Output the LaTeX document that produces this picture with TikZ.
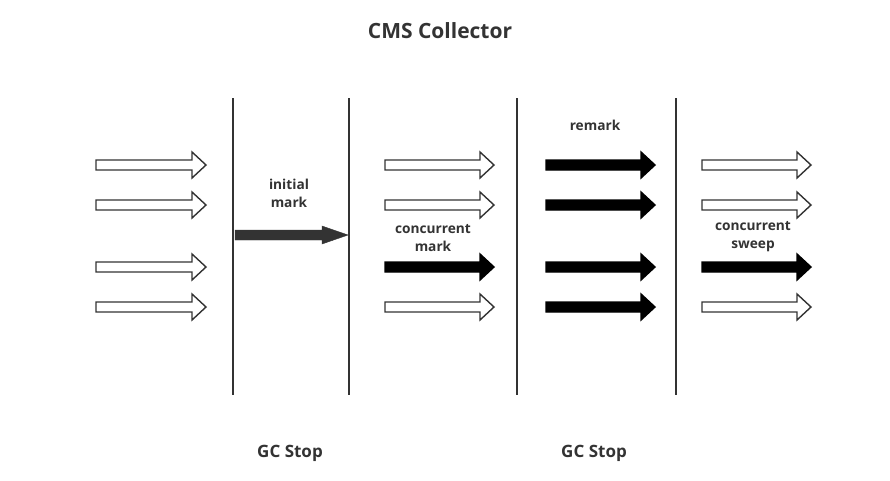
\documentclass[tikz,border=0pt]{standalone}
\usepackage{fontspec}
\setmainfont{Open Sans}
\definecolor{ink}{HTML}{333333}

% big block arrow: style, left x, middle y, tip x
\newcommand{\blockarrow}[4]{%
  \draw[#1] (#2,#3-5) -- (#4-14,#3-5) -- (#4-14,#3-13) -- (#4,#3)
    -- (#4-14,#3+13) -- (#4-14,#3+5) -- (#2,#3+5) -- cycle;}

\begin{document}
\begin{tikzpicture}[x=1pt,y=-1pt,
    stopline/.style={draw=ink, line width=2.4pt},
    blockopen/.style={draw=ink, fill=white, line width=1.4pt},
    blockfull/.style={draw=black, fill=black, line width=1.4pt},
    lbl/.style={text=ink, font=\bfseries\fontsize{13.7}{18}\selectfont, align=center, inner sep=0pt}]

  \useasboundingbox (0,0) rectangle (890,480);

  \node[lbl, font=\bfseries\fontsize{21}{25}\selectfont] (title) at (440,31) {CMS Collector};

  % the four stop lines
  \foreach \x in {233,349,517,676}
    \draw[stopline] (\x,98) -- (\x,395);

  % before initial mark
  \foreach \y in {165,205,267,307}
    {\blockarrow{blockopen}{96}{\y}{206}}

  % initial mark
  \node[lbl] (init) at (289,193) {initial\\mark};
  \draw[draw=ink, fill=ink] (235,230) -- (322,230) -- (322,226) -- (348,235)
    -- (322,244) -- (322,240) -- (235,240) -- cycle;

  % concurrent mark
  \node[lbl] (cmark) at (433,238) {concurrent\\mark};
  \foreach \y in {165,205,307}
    {\blockarrow{blockopen}{385}{\y}{494}}
  \blockarrow{blockfull}{385}{267}{494}

  % remark
  \node[lbl] (remark) at (595,125) {remark};
  \foreach \y in {165,205,267,307}
    {\blockarrow{blockfull}{546}{\y}{655}}

  % concurrent sweep
  \node[lbl] (sweep) at (753,237) {concurrent\\sweep};
  \foreach \y in {165,205,307}
    {\blockarrow{blockopen}{702}{\y}{811}}
  \blockarrow{blockfull}{702}{267}{811}

  \node[lbl, font=\bfseries\fontsize{17}{20}\selectfont] (stop1) at (290,453) {GC Stop};
  \node[lbl, font=\bfseries\fontsize{17}{20}\selectfont] (stop2) at (594,453) {GC Stop};
\end{tikzpicture}
\end{document}
